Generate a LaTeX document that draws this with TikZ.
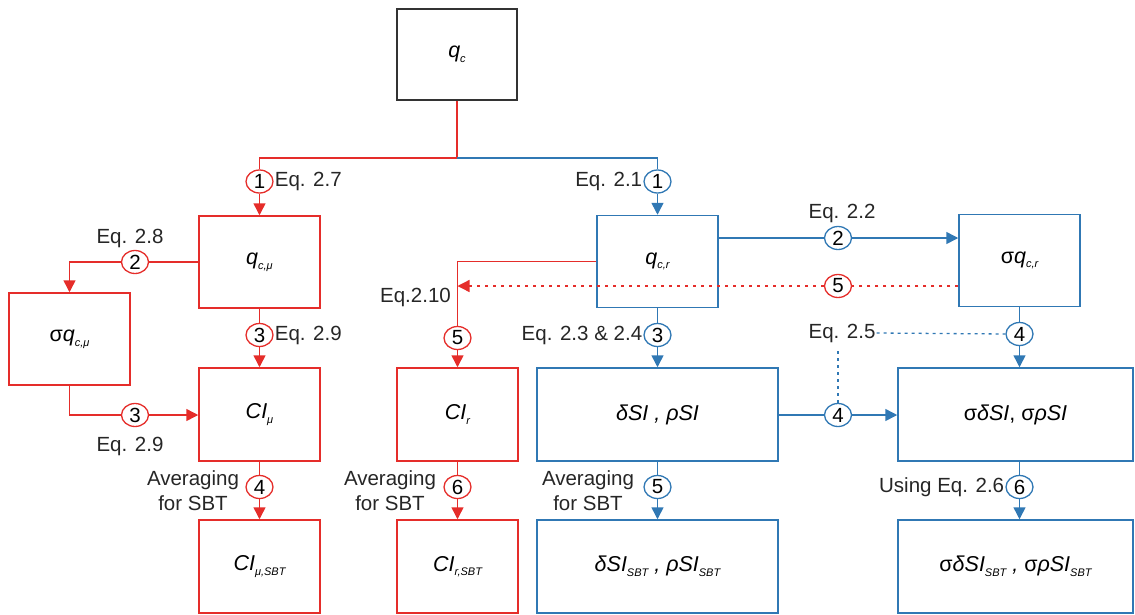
\documentclass[tikz,border=0pt]{standalone}
\usepackage{fontspec}
\setmainfont{Liberation Sans}
\usetikzlibrary{arrows.meta,shapes.geometric}
\definecolor{cred}{RGB}{229,45,42}
\definecolor{cblue}{RGB}{48,120,180}
% small italic subscript used inside the boxes
\newcommand\sbs[1]{\raisebox{-0.4ex}{\fontsize{11}{11}\selectfont\itshape #1}}

\begin{document}
\begin{tikzpicture}[x=1pt,y=-1pt,
  box/.style={draw,line width=1.5pt,minimum width=121pt,minimum height=92pt,inner sep=0pt,
    font=\fontsize{21.5}{24}\selectfont},
  wbox/.style={box,minimum width=241pt},
  num/.style={ellipse,draw,line width=1.3pt,fill=white,minimum width=27pt,minimum height=23pt,
    inner sep=0pt,font=\fontsize{20.5}{20}\selectfont},
  lbl/.style={font=\fontsize{20.5}{22}\selectfont,inner sep=1pt,text=black!85},
  arr/.style={-{Triangle[width=12pt,length=12pt]}},
  rl/.style={cred,line width=1.5pt},
  bl/.style={cblue,line width=1.5pt},
  dotr/.style={cred,line width=1.3pt,dash pattern=on 3pt off 5pt},
  dotb/.style={cblue,line width=1.3pt,dash pattern=on 3pt off 4pt}]
\useasboundingbox (0,0) rectangle (1135,614);

% boxes
\node[box,draw=black!80,line width=1.1pt,minimum width=120pt,minimum height=91pt] (qc) at (457,54.5) {\textit{q}\sbs{c}};
\node[box,draw=cred] (qcmu) at (259.5,262) {\textit{q}\sbs{c,μ}};
\node[box,draw=cred] (sqcmu) at (69.5,339) {σ\textit{q}\sbs{c,μ}};
\node[box,draw=cred,minimum height=93pt] (CImu) at (259.5,414.5) {\textit{CI}\sbs{μ}};
\node[box,draw=cred,minimum height=93pt] (CImuS) at (259.5,566.5) {\textit{CI}\sbs{μ,SBT}};
\node[box,draw=cred,minimum height=93pt] (CIr) at (457.5,414.5) {\textit{CI}\sbs{r}};
\node[box,draw=cred,minimum height=93pt] (CIrS) at (457.5,566.5) {\textit{CI}\sbs{r,SBT}};
\node[box,draw=cblue] (qcr) at (657.5,261.5) {\textit{q}\sbs{c,r}};
\node[box,draw=cblue] (sqcr) at (1019.5,260.5) {σ\textit{q}\sbs{c,r}};
\node[wbox,draw=cblue,minimum height=93pt] (dSI) at (657.5,414.5) {\textit{δSI , ρSI}};
\node[wbox,draw=cblue,minimum height=93pt] (dSIS) at (657.5,566.5) {\textit{δSI}\sbs{SBT}\textit{ , ρSI}\sbs{SBT}};
\node[wbox,draw=cblue,minimum width=235pt,minimum height=93pt] (sdSI) at (1015.5,414.5) {σ\textit{δSI}, σ\textit{ρSI}};
\node[wbox,draw=cblue,minimum width=235pt,minimum height=93pt] (sdSIS) at (1015.5,566.5) {σ\textit{δSI}\sbs{SBT}\textit{ , }σ\textit{ρSI}\sbs{SBT}};

% step numbers
\node[num,draw=cred] (c1r) at (259.5,181.5) {1};
\node[num,draw=cred] (c2r) at (135,262) {2};
\node[num,draw=cred] (c3r) at (259.5,335) {3};
\node[num,draw=cred] (c3l) at (135,415) {3};
\node[num,draw=cred] (c4r) at (259.5,487) {4};
\node[num,draw=cred] (c5r) at (457.5,338) {5};
\node[num,draw=cred] (c6r) at (457.5,487) {6};
\node[num,draw=cred] (c5d) at (838,286) {5};
\node[num,draw=cblue] (c1b) at (657.5,181.5) {1};
\node[num,draw=cblue] (c2b) at (838,238) {2};
\node[num,draw=cblue] (c3b) at (657.5,335) {3};
\node[num,draw=cblue] (c4b) at (1019.5,334) {4};
\node[num,draw=cblue] (c4h) at (838,415) {4};
\node[num,draw=cblue] (c5b) at (657.5,487) {5};
\node[num,draw=cblue] (c6b) at (1019.5,487) {6};
\coordinate (j) at (457,158);
\coordinate (d10) at (457.5,286);

% labels
\node[lbl,anchor=west] at (c1r.east) {Eq. 2.7};
\node[lbl,anchor=east] at (c1b.west) {Eq. 2.1};
\node[lbl] at (130,238) {Eq. 2.8};
\node[lbl,anchor=west] at (c3r.east) {Eq. 2.9};
\node[lbl] at (130,446) {Eq. 2.9};
\node[lbl,anchor=east] at (452,297) {Eq.2.10};
\node[lbl,anchor=east] at (c3b.west) {Eq. 2.3 \& 2.4};
\node[lbl] at (842,213) {Eq. 2.2};
\node[lbl] (eq25) at (842,333) {Eq. 2.5};
\node[lbl,align=center,font=\fontsize{20.5}{25}\selectfont] at (193,491) {Averaging\\for SBT};
\node[lbl,align=center,font=\fontsize{20.5}{25}\selectfont] at (390,491) {Averaging\\for SBT};
\node[lbl,align=center,font=\fontsize{20.5}{25}\selectfont] at (588,491) {Averaging\\for SBT};
\node[lbl,anchor=east] at (c6b.west) {Using Eq. 2.6};

% red branch
\draw[rl] (qc.south) -- (j) -| (c1r.north);
\draw[rl,arr] (c1r) -- (qcmu.north);
\draw[rl] (qcmu.west |- c2r) -- (c2r);
\draw[rl,arr] (c2r) -| (sqcmu.north);
\draw[rl] (qcmu) -- (c3r);
\draw[rl,arr] (c3r) -- (CImu.north);
\draw[rl] (sqcmu.south) |- (c3l);
\draw[rl,arr] (c3l) -- (CImu.west |- c3l);
\draw[rl] (CImu) -- (c4r);
\draw[rl,arr] (c4r) -- (CImuS.north);
\draw[rl] (qcr.west) -| (c5r.north);
\draw[rl,arr] (c5r) -- (CIr.north);
\draw[rl] (CIr) -- (c6r);
\draw[rl,arr] (c6r) -- (CIrS.north);
\draw[dotr] (sqcr.west |- c5d) -- (c5d);
\draw[dotr,arr] (c5d) -- (d10);

% blue branch
\draw[bl] (j) -| (c1b.north);
\draw[bl,arr] (c1b) -- (qcr.north);
\draw[bl] (qcr.east |- c2b) -- (c2b);
\draw[bl,arr] (c2b) -- (sqcr.west |- c2b);
\draw[bl] (qcr) -- (c3b);
\draw[bl,arr] (c3b) -- (dSI.north);
\draw[bl] (sqcr) -- (c4b);
\draw[bl,arr] (c4b) -- (c4b |- sdSI.north);
\draw[bl] (dSI.east |- c4h) -- (c4h);
\draw[bl,arr] (c4h) -- (sdSI.west |- c4h);
\draw[bl] (dSI) -- (c5b);
\draw[bl,arr] (c5b) -- (dSIS.north);
\draw[bl] (sdSI.south -| c6b) -- (c6b);
\draw[bl,arr] (c6b) -- (c6b |- sdSIS.north);
\draw[dotb] (eq25.east) -- (c4b.west);
\draw[dotb] (c4h.north) -- ([yshift=-7pt]c4h.north |- eq25.south);
\end{tikzpicture}
\end{document}
